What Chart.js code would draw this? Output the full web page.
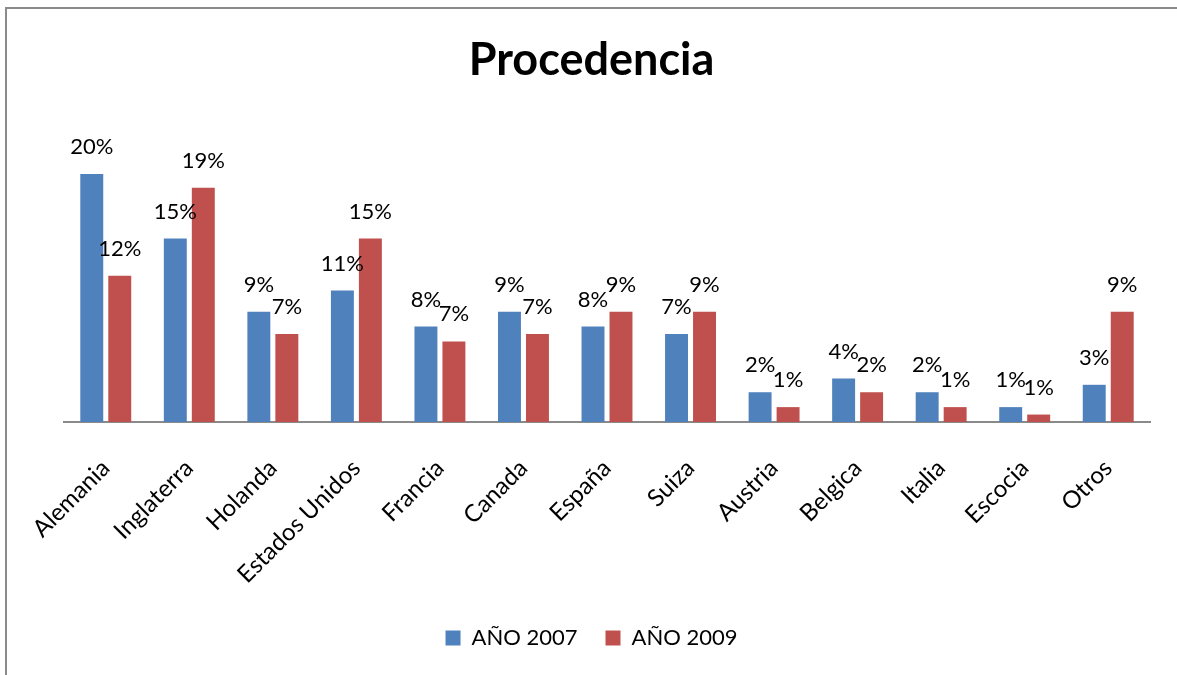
<!DOCTYPE html>
<html>
<head>
<meta charset="utf-8">
<script src="https://cdn.jsdelivr.net/npm/chart.js@4"></script>
<style>
  html, body { margin: 0; padding: 0; background: #fff; overflow: hidden; }
  #frame {
    position: absolute; left: 5px; top: 7px; width: 1300px; height: 800px;
    border-left: 2px solid #8a8a8a; border-top: 2px solid #8a8a8a;
  }
  #wrap { position: absolute; left: 0; top: 0; width: 1177px; height: 675px; }
</style>
</head>
<body>
<div id="frame"></div>
<div id="wrap"><canvas id="chart"></canvas></div>
<script>
const categories = ['Alemania', 'Inglaterra', 'Holanda', 'Estados Unidos', 'Francia', 'Canada',
  'España', 'Suiza', 'Austria', 'Belgica', 'Italia', 'Escocia', 'Otros']
const year2007 = [20.0, 14.8, 8.9, 10.6, 7.7, 8.9, 7.7, 7.1, 2.4, 3.5, 2.4, 1.2, 3.0]
const year2009 = [11.8, 18.9, 7.1, 14.8, 6.5, 7.1, 8.9, 8.9, 1.2, 2.4, 1.2, 0.6, 8.9]
const seriesNames = ['AÑO 2007', 'AÑO 2009']

// simple value labels above each bar
const barLabels = {
  id: 'barLabels',
  afterDatasetsDraw(chart) {
    const ctx = chart.ctx
    ctx.save()
    ctx.font = '22px Lato'
    ctx.fillStyle = '#000'
    ctx.textAlign = 'center'
    ctx.textBaseline = 'middle'
    chart.data.datasets.forEach((ds, i) => {
      chart.getDatasetMeta(i).data.forEach((bar, j) => {
        ctx.fillText(Math.round(ds.data[j]) + '%', bar.x, bar.y - 27)
      })
    })
    ctx.restore()
  }
}

new Chart(document.getElementById('chart'), {
  type: 'bar',
  data: {
    labels: categories,
    datasets: [
      { label: seriesNames[0], data: year2007, backgroundColor: '#4F81BD' },
      { label: seriesNames[1], data: year2009, backgroundColor: '#C0504D' }
    ]
  },
  options: {
    responsive: true,
    maintainAspectRatio: false,
    animation: false,
    categoryPercentage: 0.67,
    barPercentage: 0.82,
    layout: { padding: { top: 7, left: 33, right: 27, bottom: 16 } },
    scales: {
      x: {
        grid: { display: false },
        border: { display: true, color: '#8a8a8a', width: 2 },
        ticks: {
          color: '#000',
          font: { family: 'Lato', size: 24 },
          minRotation: 45,
          maxRotation: 45,
          padding: 24
        },
        afterFit(scale) { scale.height = 177 }
      },
      y: {
        min: 0,
        max: 25,
        grid: { display: false },
        border: { display: false },
        ticks: { display: false },
        afterFit(scale) { scale.width = 31 }
      }
    },
    plugins: {
      title: {
        display: true,
        text: 'Procedencia',
        color: '#000',
        font: { family: 'Lato', size: 45, weight: 'bold' },
        padding: { top: 26, bottom: 25 }
      },
      legend: {
        position: 'bottom',
        labels: {
          color: '#000',
          font: { family: 'Lato', size: 22 },
          boxWidth: 15,
          boxHeight: 15,
          padding: 28
        }
      },
      tooltip: { enabled: false }
    }
  },
  plugins: [barLabels]
})
</script>
</body>
</html>
